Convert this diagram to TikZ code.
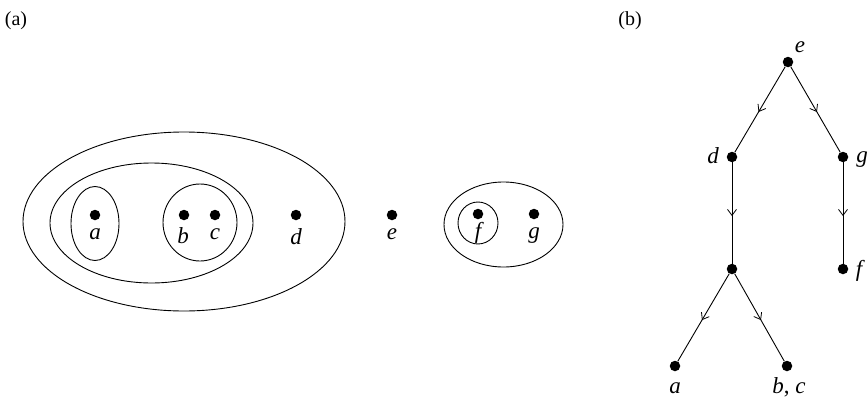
\documentclass[tikz,border=0pt]{standalone}
\usepackage{fontspec}
\setmainfont{Liberation Serif}[ItalicFont={Liberation Serif Italic}]
\usetikzlibrary{arrows.meta,decorations.markings}
\tikzset{
  pt/.style={circle,fill=black,inner sep=0pt,minimum size=10.5pt},
  lbl/.style={inner sep=0pt,font=\fontsize{23}{27}\selectfont\itshape},
  tag/.style={inner sep=0pt,font=\fontsize{20}{24}\selectfont},
  setline/.style={line width=0.9pt},
  midarrow/.style={line width=0.9pt,
    postaction={decorate,decoration={markings,
      mark=at position 0.53 with {\arrow{Straight Barb[length=6pt,width=9pt,line width=0.8pt]}}}}}
}
\begin{document}
\begin{tikzpicture}[x=1pt,y=-1pt]
\useasboundingbox (0,0) rectangle (868,399);

% ---------- (a): nested sets ----------
\node[tag] (taga) at (16,21) {(a)};

\draw[setline] (184,221.5) ellipse [x radius=161, y radius=89.5];
\draw[setline] (151.5,223) ellipse [x radius=101.5, y radius=60];
\draw[setline] (95,223.5) ellipse [x radius=24, y radius=37];
\draw[setline] (200,222.5) ellipse [x radius=37, y radius=38.5];
\draw[setline] (503.5,224.5) ellipse [x radius=59.5, y radius=42.5];
\draw[setline] (478,223) ellipse [x radius=20, y radius=21];

\node[pt] (pa) at (95,215) {};
\node[pt] (pb) at (184,215) {};
\node[pt] (pc) at (215,215) {};
\node[pt] (pd) at (296,215) {};
\node[pt] (pe) at (392,215) {};
\node[pt] (pf) at (478,214) {};
\node[pt] (pg) at (534,214) {};

\node[lbl,anchor=north] (la) at (95,228) {a};
\node[lbl,anchor=north] (lb) at (183,227) {b};
\node[lbl,anchor=north] (lc) at (215,228) {c};
\node[lbl,anchor=north] (ld) at (296,228) {d};
\node[lbl,anchor=north] (le) at (392,228) {e};
\node[lbl,anchor=north] (lf) at (478,222) {f};
\node[lbl,anchor=north] (lg) at (534,227) {g};

% ---------- (b): the tree ----------
\node[tag] (tagb) at (630,21) {(b)};

\node[pt] (te) at (788,62) {};
\node[pt] (td) at (732,157) {};
\node[pt] (tg) at (843,157) {};
\node[pt] (tm) at (732,269) {};
\node[pt] (tf) at (843,269) {};
\node[pt] (ta) at (675,366) {};
\node[pt] (tbc) at (787,366) {};

\draw[midarrow] (te) -- (td);
\draw[midarrow] (te) -- (tg);
\draw[midarrow] (td) -- (tm);
\draw[midarrow] (tg) -- (tf);
\draw[midarrow] (tm) -- (ta);
\draw[midarrow] (tm) -- (tbc);

\node[lbl] (lte) at (800,47) {e};
\node[lbl] (ltd) at (713,156) {d};
\node[lbl] (ltg) at (862,160) {g};
\node[lbl] (ltf) at (859,271) {f};
\node[lbl,anchor=base] (lta) at (675,393) {a};
\node[lbl,anchor=base] (ltbc) at (789,393) {b\upshape, \itshape c};
\end{tikzpicture}
\end{document}
